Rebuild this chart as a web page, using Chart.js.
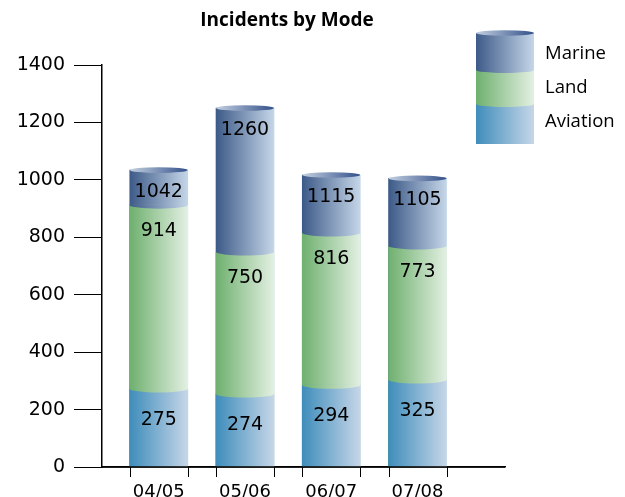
<!DOCTYPE html>
<html><head><meta charset="utf-8">
<style>html,body{margin:0;padding:0;background:#fff}#w{width:625px;height:497px}</style>
<script src="https://cdn.jsdelivr.net/npm/chart.js@4"></script></head>
<body><div id="w"><canvas id="c" width="625" height="497"></canvas></div>
<script>
const categories = ['04/05','05/06','06/07','07/08'];
const seriesNames = ['Aviation','Land','Marine'];
const aviationTop = [272,254,285,303];
const landTop = [912,749,815,770];
const marineTop = [1034,1250,1017,1005];
const aviationLabels = ['275','274','294','325'];
const landLabels = ['914','750','816','773'];
const marineLabels = ['1042','1260','1115','1105'];
const yTicks = [0,200,400,600,800,1000,1200,1400];
const titleText = 'Incidents by Mode';

const colors = {
  Aviation:['#3f8dbb','#c6d6e8'],
  Land:['#6fb06f','#e3f0e2'],
  Marine:['#3d5a88','#c5d6e8']
};
const BAR = 58, TXT = '"DejaVu Sans"', UI = '"Open Sans"';
function grad(ctx,x0,x1,c){const g=ctx.createLinearGradient(x0,0,x1,0);g.addColorStop(0,c[0]);g.addColorStop(1,c[1]);return g;}
function barFill(name){return c=>{
  const s=c.chart.scales.x; if(!s||c.dataIndex===undefined) return colors[name][0];
  const x=s.getPixelForValue(c.dataIndex);
  if(!Number.isFinite(x)) return colors[name][0];
  return grad(c.chart.ctx,x-BAR/2,x+BAR/2,colors[name]);
};}
// lower half of an ellipse, with a small lip above it so no seam shows against the bar
function halfEllipse(ctx,cx,y,rx,ry,fill){
  ctx.beginPath();ctx.moveTo(cx-rx,y-1);ctx.lineTo(cx+rx,y-1);ctx.lineTo(cx+rx,y);
  ctx.ellipse(cx,y,rx,ry,0,0,Math.PI);ctx.closePath();ctx.fillStyle=fill;ctx.fill();
}
function topEllipse(ctx,cx,y,rx,ry){
  ctx.beginPath();ctx.ellipse(cx,y,rx,ry,0,0,Math.PI*2);
  ctx.fillStyle=grad(ctx,cx-rx,cx+rx,['#c3d0e0','#33508a']);ctx.fill();
}
const cyl = {
  id:'cyl',
  afterDatasetsDraw(chart){
    const {ctx,scales:{x,y}}=chart; ctx.save();
    categories.forEach((_,i)=>{
      const cx=x.getPixelForValue(i), x0=cx-BAR/2, x1=cx+BAR/2;
      halfEllipse(ctx,cx,y.getPixelForValue(landTop[i]),BAR/2,3.5,grad(ctx,x0,x1,colors.Marine));
      halfEllipse(ctx,cx,y.getPixelForValue(aviationTop[i]),BAR/2,3.5,grad(ctx,x0,x1,colors.Land));
      topEllipse(ctx,cx,y.getPixelForValue(marineTop[i]),BAR/2,2.8);
      ctx.fillStyle='#000';ctx.font='19px '+TXT;ctx.textAlign='center';ctx.textBaseline='middle';
      ctx.fillText(marineLabels[i],cx,y.getPixelForValue(marineTop[i])+22);
      ctx.fillText(landLabels[i],cx,y.getPixelForValue(landTop[i])+26);
      ctx.fillText(aviationLabels[i],cx,y.getPixelForValue(aviationTop[i])+31);
      ctx.strokeStyle='#000';ctx.lineWidth=1;
      [x0,x1].forEach(px=>{const p=Math.round(px)+0.5;ctx.beginPath();ctx.moveTo(p,y.bottom);ctx.lineTo(p,y.bottom+10);ctx.stroke();});
    });
    // the axis line sits on top of the bars
    ctx.strokeStyle='#000';ctx.lineWidth=1.5;ctx.beginPath();ctx.moveTo(x.left,y.bottom);ctx.lineTo(x.right,y.bottom);ctx.stroke();
    ctx.fillStyle='#000';ctx.font='bold 19px '+UI;ctx.textAlign='center';ctx.textBaseline='middle';
    ctx.fillText(titleText,287,21);
    const lx=476,lw=58,mid=lx+lw/2;
    ctx.fillStyle=grad(ctx,lx,lx+lw,colors.Aviation);ctx.fillRect(lx,104,lw,40);
    ctx.fillStyle=grad(ctx,lx,lx+lw,colors.Land);ctx.fillRect(lx,70,lw,34);
    halfEllipse(ctx,mid,104,lw/2,3,grad(ctx,lx,lx+lw,colors.Land));
    ctx.fillStyle=grad(ctx,lx,lx+lw,colors.Marine);ctx.fillRect(lx,33,lw,37);
    halfEllipse(ctx,mid,70,lw/2,3,grad(ctx,lx,lx+lw,colors.Marine));
    topEllipse(ctx,mid,33,lw/2,2.8);
    ctx.fillStyle='#000';ctx.font='18.5px '+UI;ctx.textAlign='left';
    ctx.fillText('Marine',545,54);ctx.fillText('Land',545,88);ctx.fillText('Aviation',545,122);
    ctx.restore();
  }
};
const ds=(name,vals)=>({label:name,data:vals.map((v,i)=>({x:i,y:v})),backgroundColor:barFill(name),barThickness:BAR,borderWidth:0,grouped:false});
new Chart(document.getElementById('c'),{
  type:'bar',
  data:{datasets:[ds('Aviation',aviationTop),ds('Land',landTop),ds('Marine',marineTop)]},
  options:{
    responsive:false,animation:false,
    layout:{padding:{top:65,right:120,bottom:0,left:0}},
    plugins:{legend:{display:false},title:{display:false},tooltip:{enabled:false}},
    scales:{
      x:{type:'linear',offset:false,min:-0.658,max:4.014,
        afterBuildTicks(s){s.ticks=categories.map((_,i)=>({value:i}));},
        afterFit(s){s.height=30;},
        grid:{display:false,offset:false},border:{display:true,color:'#000',width:1.5},
        ticks:{callback:v=>categories[v],color:'#000',font:{family:TXT,size:18},padding:7,maxRotation:0,autoSkip:false}},
      y:{min:0,max:1400,
        afterBuildTicks(s){s.ticks=yTicks.map(v=>({value:v}));},
        afterFit(s){s.width=102;},
        grid:{drawOnChartArea:false,drawTicks:true,tickLength:28,color:'#000'},
        border:{display:true,color:'#000',width:1.5},
        ticks:{callback:v=>String(v),color:'#000',font:{family:TXT,size:19},padding:9}}
    }
  },
  plugins:[cyl]
});
</script></body></html>
